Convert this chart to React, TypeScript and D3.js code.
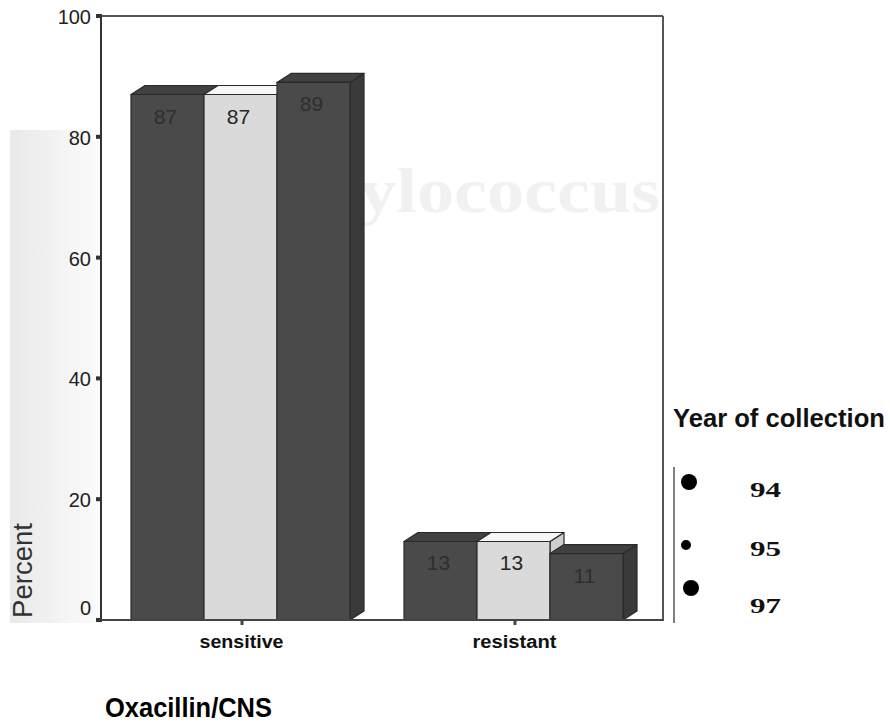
import React from "react";
import * as d3 from "d3";

const categories = ["sensitive", "resistant"];
const years = ["94", "95", "97"];
const values94 = [87, 13];
const values95 = [87, 13];
const values97 = [89, 11];
const yTicks = [0, 20, 40, 60, 80, 100];
const yLabel = "Percent";
const title = "Oxacillin/CNS";
const legendTitle = "Year of collection";

const W = 890;
const H = 723;
const SANS = "'Liberation Sans', Arial, sans-serif";
const SERIF = "'Liberation Serif', 'Times New Roman', serif";

const yearFront: Record<string, string> = { "94": "#4a4a4a", "95": "#dadada", "97": "#4a4a4a" };
const yearTop: Record<string, string> = { "94": "#414141", "95": "#f6f6f6", "97": "#414141" };
const yearSide: Record<string, string> = { "94": "#3a3a3a", "95": "#cfcfcf", "97": "#3a3a3a" };
const yearLabel: Record<string, string> = { "94": "#2e2e2e", "95": "#262626", "97": "#2e2e2e" };
const legendR: Record<string, number> = { "94": 8, "95": 5, "97": 8 };

export default function App() {
  const y = d3.scaleLinear().domain([0, 100]).range([620, 16]);
  const x0 = d3.scaleBand().domain(categories).range([104, 650]);
  const groupW = 219;
  const x1 = d3.scaleBand().domain(years).range([0, groupW]);
  const bw = x1.bandwidth();
  const dx = 14;
  const dy = -9;
  const series: Record<string, number[]> = { "94": values94, "95": values95, "97": values97 };

  const bars: any[] = [];
  categories.forEach((c, ci) => {
    const gx = (x0(c) as number) + (x0.bandwidth() - groupW) / 2;
    years.forEach((yr) => {
      const v = series[yr][ci];
      const x = gx + (x1(yr) as number);
      const top = y(v);
      const base = y(0);
      bars.push({ key: c + yr, yr, v, x, top, base });
    });
  });

  const legendY = d3.scalePoint().domain(years).range([482, 590]);
  const legendLabelY: Record<string, number> = {};

  return (
    <svg width={W} height={H} style={{ position: "absolute", left: 0, top: 0, background: "#fff" }}>
      <defs>
        <linearGradient id="panel" x1="0" x2="1" y1="0" y2="0">
          <stop offset="0" stopColor="#e9e9e9" />
          <stop offset="1" stopColor="#fbfbfb" />
        </linearGradient>
      </defs>
      <rect x={0} y={0} width={W} height={H} fill="#fff" />
      <rect x={10} y={130} width={90} height={493} fill="url(#panel)" />
      <text x={215} y={212} fontFamily={SERIF} fontWeight="bold" fontSize={64} fill="#f1f1f1" textLength={445} lengthAdjust="spacingAndGlyphs">
        taphylococcus
      </text>

      {/* frame */}
      <line x1={100} x2={663} y1={16} y2={16} stroke="#555" strokeWidth={2} />
      <line x1={663} x2={663} y1={16} y2={621} stroke="#555" strokeWidth={2} />

      {/* bars */}
      {bars.map((b) => (
        <g key={b.key} stroke="#2a2a2a" strokeWidth={1.2} strokeLinejoin="round">
          <polygon
            points={`${b.x + bw},${b.base} ${b.x + bw + dx},${b.base + dy} ${b.x + bw + dx},${b.top + dy} ${b.x + bw},${b.top}`}
            fill={yearSide[b.yr]}
          />
          <polygon
            points={`${b.x},${b.top} ${b.x + dx},${b.top + dy} ${b.x + bw + dx},${b.top + dy} ${b.x + bw},${b.top}`}
            fill={yearTop[b.yr]}
          />
          <rect x={b.x} y={b.top} width={bw} height={b.base - b.top} fill={yearFront[b.yr]} />
          <text
            x={b.x + bw / 2 - 2}
            y={b.top + 29}
            textAnchor="middle"
            fontFamily={SANS}
            fontSize={21}
            fill={yearLabel[b.yr]}
            stroke="none"
          >
            {b.v}
          </text>
        </g>
      ))}

      {/* axes */}
      <line x1={101} x2={101} y1={14} y2={622} stroke="#333" strokeWidth={2} />
      <line x1={100} x2={664} y1={620} y2={620} stroke="#444" strokeWidth={2} />
      {yTicks.map((t) => (
        <g key={t}>
          <rect x={96} y={y(t) - 2} width={5} height={4} fill="#333" />
          <text
            x={91}
            y={Math.min(y(t) + 8, 615)}
            textAnchor="end"
            fontFamily={SANS}
            fontSize={20}
            fill="#222"
          >
            {t}
          </text>
        </g>
      ))}
      {categories.map((c) => {
        const cx = (x0(c) as number) + x0.bandwidth() / 2;
        return (
          <g key={c}>
            <rect x={cx} y={620} width={3} height={5} fill="#444" />
            <text
              x={cx + 1}
              y={648}
              textAnchor="middle"
              fontFamily={SANS}
              fontWeight="bold"
              fontSize={17.5}
              fill="#111"
              textLength={84}
              lengthAdjust="spacingAndGlyphs"
            >
              {c}
            </text>
          </g>
        );
      })}

      <text
        transform="translate(32,618) rotate(-90)"
        fontFamily={SANS}
        fontSize={27}
        fill="#333"
        textLength={95}
        lengthAdjust="spacingAndGlyphs"
      >
        {yLabel}
      </text>

      <text
        x={105}
        y={717}
        fontFamily={SANS}
        fontWeight="bold"
        fontSize={27}
        fill="#000"
        textLength={167}
        lengthAdjust="spacingAndGlyphs"
      >
        {title}
      </text>

      {/* legend */}
      <text
        x={673}
        y={427}
        fontFamily={SANS}
        fontWeight="bold"
        fontSize={25}
        fill="#111"
        textLength={212}
        lengthAdjust="spacingAndGlyphs"
      >
        {legendTitle}
      </text>
      <line x1={674} x2={674} y1={467} y2={623} stroke="#000" strokeWidth={1} />
      {years.map((yr, i) => {
        const cy = legendY(yr) as number;
        const dotX = [689, 686, 691][i];
        const dotY = [482, 545, 588][i];
        const ly = [497, 556, 613][i];
        return (
          <g key={yr}>
            <circle cx={dotX} cy={dotY} r={legendR[yr]} fill="#000" />
            <text
              x={750}
              y={ly}
              fontFamily={SERIF}
              fontWeight="bold"
              fontSize={21}
              fill="#111"
              textLength={31}
              lengthAdjust="spacingAndGlyphs"
            >
              {yr}
            </text>
          </g>
        );
      })}
    </svg>
  );
}
